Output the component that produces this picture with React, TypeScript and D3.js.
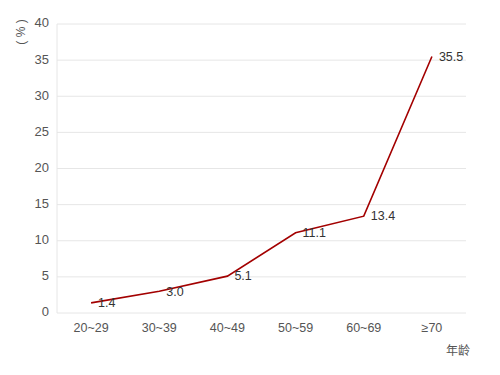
import React from "react";
import * as d3 from "d3";

const categories = ["20~29", "30~39", "40~49", "50~59", "60~69", "≥70"];
const values = [1.4, 3.0, 5.1, 11.1, 13.4, 35.5];
const yTicks = [0, 5, 10, 15, 20, 25, 30, 35, 40];

const App = () => {
  const width = 500;
  const height = 375;
  const margin = { top: 24, right: 34, bottom: 62, left: 57 };

  const x = d3
    .scaleBand()
    .domain(categories)
    .range([margin.left, width - margin.right]);

  const y = d3
    .scaleLinear()
    .domain([0, 40])
    .range([height - margin.bottom, margin.top]);

  const cx = (c) => x(c) + x.bandwidth() / 2;

  const line = d3
    .line()
    .x((d, i) => cx(categories[i]))
    .y((d) => y(d));

  const font = "'Liberation Sans', Arial, sans-serif";

  return (
    <svg
      width={width}
      height={height}
      style={{ position: "absolute", left: 0, top: 0, fontFamily: font }}
    >
      {yTicks.map((t) => (
        <g key={t}>
          <line
            x1={margin.left}
            x2={width - margin.right}
            y1={y(t)}
            y2={y(t)}
            stroke="#e6e6e6"
          />
          <text
            x={margin.left - 8}
            y={y(t)}
            textAnchor="end"
            dominantBaseline="middle"
            fontSize={13}
            fill="#555"
          >
            {t}
          </text>
        </g>
      ))}
      <line
        x1={margin.left}
        x2={margin.left}
        y1={margin.top}
        y2={height - margin.bottom}
        stroke="#e6e6e6"
      />
      {categories.map((c) => (
        <text
          key={c}
          x={cx(c)}
          y={height - margin.bottom + 16}
          textAnchor="middle"
          dominantBaseline="middle"
          fontSize={12.5}
          fill="#555"
        >
          {c}
        </text>
      ))}
      <path d={line(values)} fill="none" stroke="#a30000" strokeWidth={1.6} />
      {values.map((v, i) => (
        <text
          key={i}
          x={cx(categories[i]) + 7}
          y={y(v) + 1}
          dominantBaseline="middle"
          fontSize={12.5}
          fill="#333"
        >
          {v.toFixed(1)}
        </text>
      ))}
      <text
        transform={`translate(22,32) rotate(-90)`}
        textAnchor="middle"
        dominantBaseline="middle"
        fontSize={12}
        fill="#555"
      >
        ( % )
      </text>
      <text
        x={width - 30}
        y={352}
        textAnchor="end"
        dominantBaseline="middle"
        fontSize={12}
        fill="#555"
        fontFamily="'Noto Sans CJK SC', sans-serif"
      >
        年龄
      </text>
    </svg>
  );
};

export default App;
